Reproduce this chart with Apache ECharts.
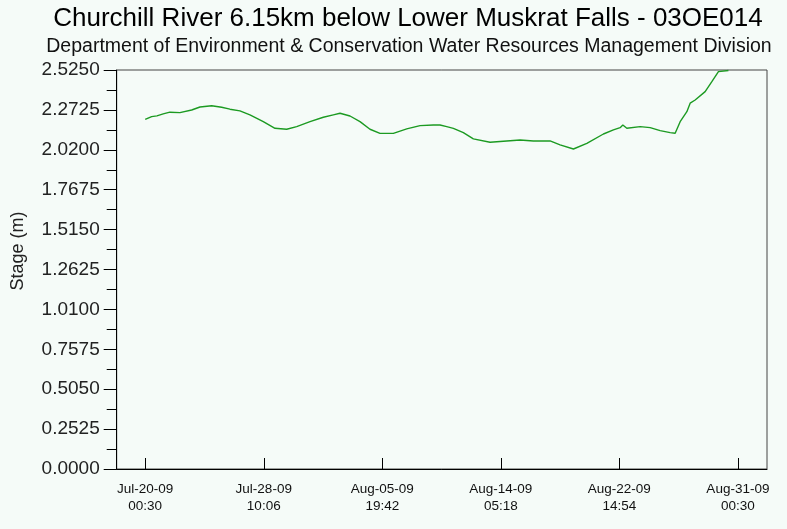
<!DOCTYPE html>
<html>
<head>
<meta charset="utf-8">
<script src="https://cdn.jsdelivr.net/npm/echarts@6/dist/echarts.min.js"></script>
<style>
html,body{margin:0;padding:0;background:#f5fbf8;}
#chart{width:787px;height:529px;}
</style>
</head>
<body>
<div id="chart"></div>
<script>
// Hours since Jul-20-09 00:30
var hours = [0, 10.9, 19.9, 30.6, 42, 59, 79, 93.1, 113, 130, 144.1, 161.1, 178.1, 200.8, 220.7, 240.6, 257.6, 280.3, 302.9, 319.9, 331.3, 348.3, 365.3, 382.3, 399.3, 422, 444.8, 467.4, 490, 501.4, 512.8, 524.1, 541.1, 558.1, 586.5, 614.9, 637.6, 660.2, 688.6, 705.6, 728.3, 751.1, 779.3, 796.3, 807.7, 812.3, 819.1, 841.8, 858.8, 875.8, 892.8, 901.3, 909.8, 921.2, 926.8, 935.3, 952.3, 963.7, 974.9, 991.9];
var stage = [2.212, 2.230, 2.235, 2.247, 2.258, 2.255, 2.272, 2.291, 2.299, 2.289, 2.277, 2.266, 2.241, 2.198, 2.156, 2.150, 2.167, 2.198, 2.226, 2.241, 2.251, 2.234, 2.198, 2.150, 2.124, 2.124, 2.152, 2.173, 2.177, 2.177, 2.167, 2.156, 2.129, 2.089, 2.068, 2.076, 2.082, 2.076, 2.076, 2.051, 2.025, 2.061, 2.120, 2.146, 2.160, 2.177, 2.156, 2.167, 2.160, 2.141, 2.129, 2.125, 2.198, 2.261, 2.315, 2.335, 2.388, 2.451, 2.515, 2.522];
var xTickHours = [0, 201.6, 403.2, 604.8, 806.4, 1008];
var yMin = 0, yMax = 2.525, yStep = 0.2525;
var titleText = 'Churchill River 6.15km below Lower Muskrat Falls - 03OE014';
var subtitleText = 'Department of Environment & Conservation Water Resources Management Division';
var yName = 'Stage (m)';
var startUTC = Date.UTC(2009, 6, 20, 0, 30);
var months = ['Jan','Feb','Mar','Apr','May','Jun','Jul','Aug','Sep','Oct','Nov','Dec'];
function pad(n){return (n<10?'0':'')+n;}
function fmtHour(h){
  var d = new Date(Math.round((startUTC + h*3600000)/60000)*60000);
  return months[d.getUTCMonth()] + '-' + pad(d.getUTCDate()) + '-' + pad(d.getUTCFullYear()%100) + '\n' + pad(d.getUTCHours()) + ':' + pad(d.getUTCMinutes());
}
var seriesData = hours.map(function(h,i){return [h, stage[i]];});
var chart = echarts.init(document.getElementById('chart'), null, {renderer:'canvas'});
var font = '"Liberation Sans", Arial, sans-serif';
chart.setOption({
  backgroundColor: '#f5fbf8',
  animation: false,
  title: [
    {text: titleText, left: 408, top: 6, textAlign: 'center', padding: 0,
     textStyle: {fontFamily: font, fontSize: 26, fontWeight: 'normal', color: '#000'}},
    {text: subtitleText, left: 409, top: 37, textAlign: 'center', padding: 0,
     textStyle: {fontFamily: font, fontSize: 19.5, fontWeight: 'normal', color: '#111'}}
  ],
  graphic: [{
    type: 'text', x: 18, y: 251, rotation: Math.PI/2,
    style: {text: yName, fill: '#222', font: '18px ' + font, textAlign: 'center', textVerticalAlign: 'middle'}
  }],
  grid: {left: 116.7, top: 70, right: 20, bottom: 60, show: true, borderColor: '#444', borderWidth: 1, backgroundColor: 'transparent'},
  xAxis: {
    type: 'value', min: -48.5, max: 1057.5,
    axisLine: {show: true, onZero: false, lineStyle: {color: '#000', width: 1}},
    axisTick: {show: true, inside: true, length: 11, customValues: xTickHours, lineStyle: {color: '#000'}},
    axisLabel: {customValues: xTickHours, formatter: function(v){return fmtHour(v);}, fontFamily: font, fontSize: 13.5, lineHeight: 17, color: '#111', margin: 12},
    splitLine: {show: false}
  },
  yAxis: {
    type: 'value', min: yMin, max: yMax, interval: yStep,
    axisLine: {show: true, onZero: false, lineStyle: {color: '#000', width: 1}},
    axisTick: {show: true, inside: false, length: 13, lineStyle: {color: '#000'}},
    minorTick: {show: true, splitNumber: 2, length: 10, lineStyle: {color: '#000'}},
    axisLabel: {formatter: function(v){return v.toFixed(4);}, fontFamily: font, fontSize: 19, color: '#222', margin: 17},
    splitLine: {show: false}
  },
  series: [{
    type: 'line', data: seriesData, showSymbol: false, symbol: 'none',
    lineStyle: {color: '#1c9a22', width: 1.4},
    clip: true
  }]
});
</script>
</body>
</html>
